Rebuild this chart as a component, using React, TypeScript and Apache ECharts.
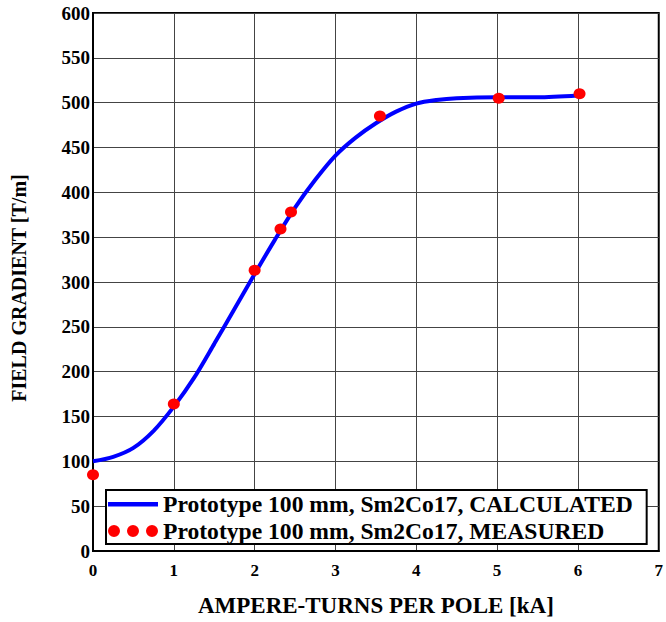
import React, { useEffect, useRef } from "react";
import * as echarts from "echarts";

const xTicks = [0, 1, 2, 3, 4, 5, 6, 7];
const calculatedX = [0, 0.25, 0.5, 0.75, 1, 1.25, 1.5, 1.75, 2, 2.25, 2.5, 2.75, 3, 3.25, 3.5, 3.75, 4, 4.25, 4.5, 5, 5.5, 6];
const calculatedY = [100, 105, 115, 134, 161, 193, 231, 270, 309, 347, 383, 414, 441, 461, 477, 490, 499, 503, 505, 506, 506, 508];
const measuredX = [0, 1, 2, 2.32, 2.45, 3.55, 5.02, 6.02];
const measuredY = [85, 164, 313, 359, 378, 485, 505, 510];

const calcName = "Prototype 100 mm, Sm2Co17, CALCULATED";
const measName = "Prototype 100 mm, Sm2Co17, MEASURED";

const FONT = "Liberation Serif";

export default function App() {
  const ref = useRef<HTMLDivElement>(null);
  useEffect(() => {
    if (!ref.current) return;
    const chart = echarts.init(ref.current, null, { renderer: "svg" });
    const dots =
      "path://M0,6a6,6 0 1,0 12,0a6,6 0 1,0 -12,0z M19,6a6,6 0 1,0 12,0a6,6 0 1,0 -12,0z M38,6a6,6 0 1,0 12,0a6,6 0 1,0 -12,0z";
    const bar = "path://M0,0 M0,12 M0,4h50v4.4h-50z";
    chart.setOption({
      animation: false,
      backgroundColor: "#fff",
      grid: {
        left: 93,
        right: 7,
        top: 13,
        bottom: 69,
        show: true,
        borderColor: "#000",
        borderWidth: 2,
        backgroundColor: "transparent",
      },
      legend: {
        orient: "vertical",
        left: 106,
        top: 490,
        padding: [2, 14, 1, 2],
        itemGap: 3,
        itemWidth: 50,
        itemHeight: 12,
        backgroundColor: "#fff",
        borderColor: "#000",
        borderWidth: 2,
        textStyle: {
          fontFamily: FONT,
          fontWeight: "bold",
          fontSize: 23.6,
          color: "#000",
          lineHeight: 23,
        },
        data: [
          { name: calcName, icon: bar, itemStyle: { color: "#0000ff" } },
          { name: measName, icon: dots },
        ],
      },
      xAxis: {
        type: "value",
        min: 0,
        max: 7,
        interval: 1,
        name: "AMPERE-TURNS PER POLE [kA]",
        nameLocation: "middle",
        nameGap: 43,
        nameTextStyle: { fontFamily: FONT, fontWeight: "bold", fontSize: 23, color: "#000" },
        axisLine: { show: true, onZero: false, lineStyle: { color: "#000", width: 2 } },
        axisTick: { show: false },
        axisLabel: {
          fontFamily: FONT,
          fontWeight: "bold",
          fontSize: 17,
          color: "#000",
          margin: 11,
          formatter: (v: number) => (xTicks.includes(v) ? String(v) : ""),
        },
        splitLine: { show: true, lineStyle: { color: "#444", width: 1 } },
      },
      yAxis: {
        type: "value",
        min: 0,
        max: 600,
        interval: 50,
        name: "FIELD GRADIENT [T/m]",
        nameLocation: "middle",
        nameGap: 64,
        nameTextStyle: { fontFamily: FONT, fontWeight: "bold", fontSize: 20, color: "#000", padding: [0, 12, 0, 0] },
        axisLine: { show: true, onZero: false, lineStyle: { color: "#000", width: 2 } },
        axisTick: { show: false },
        axisLabel: {
          fontFamily: FONT,
          fontWeight: "bold",
          fontSize: 19,
          color: "#000",
          margin: 3,
        },
        splitLine: { show: true, lineStyle: { color: "#444", width: 1 } },
      },
      series: [
        {
          name: calcName,
          type: "line",
          smooth: 0.3,
          symbol: "none",
          data: calculatedX.map((x, i) => [x, calculatedY[i]]),
          lineStyle: { color: "#0000ff", width: 4 },
          itemStyle: { color: "#0000ff" },
          z: 3,
        },
        {
          name: measName,
          type: "scatter",
          symbol: "circle",
          symbolSize: [12, 11],
          data: measuredX.map((x, i) => [x, measuredY[i]]),
          itemStyle: { color: "#ff0000", opacity: 1 },
          z: 4,
        },
      ],
    });
    return () => chart.dispose();
  }, []);
  return (
    <div
      ref={ref}
      style={{ position: "absolute", left: 0, top: 0, width: 666, height: 622 }}
    />
  );
}
